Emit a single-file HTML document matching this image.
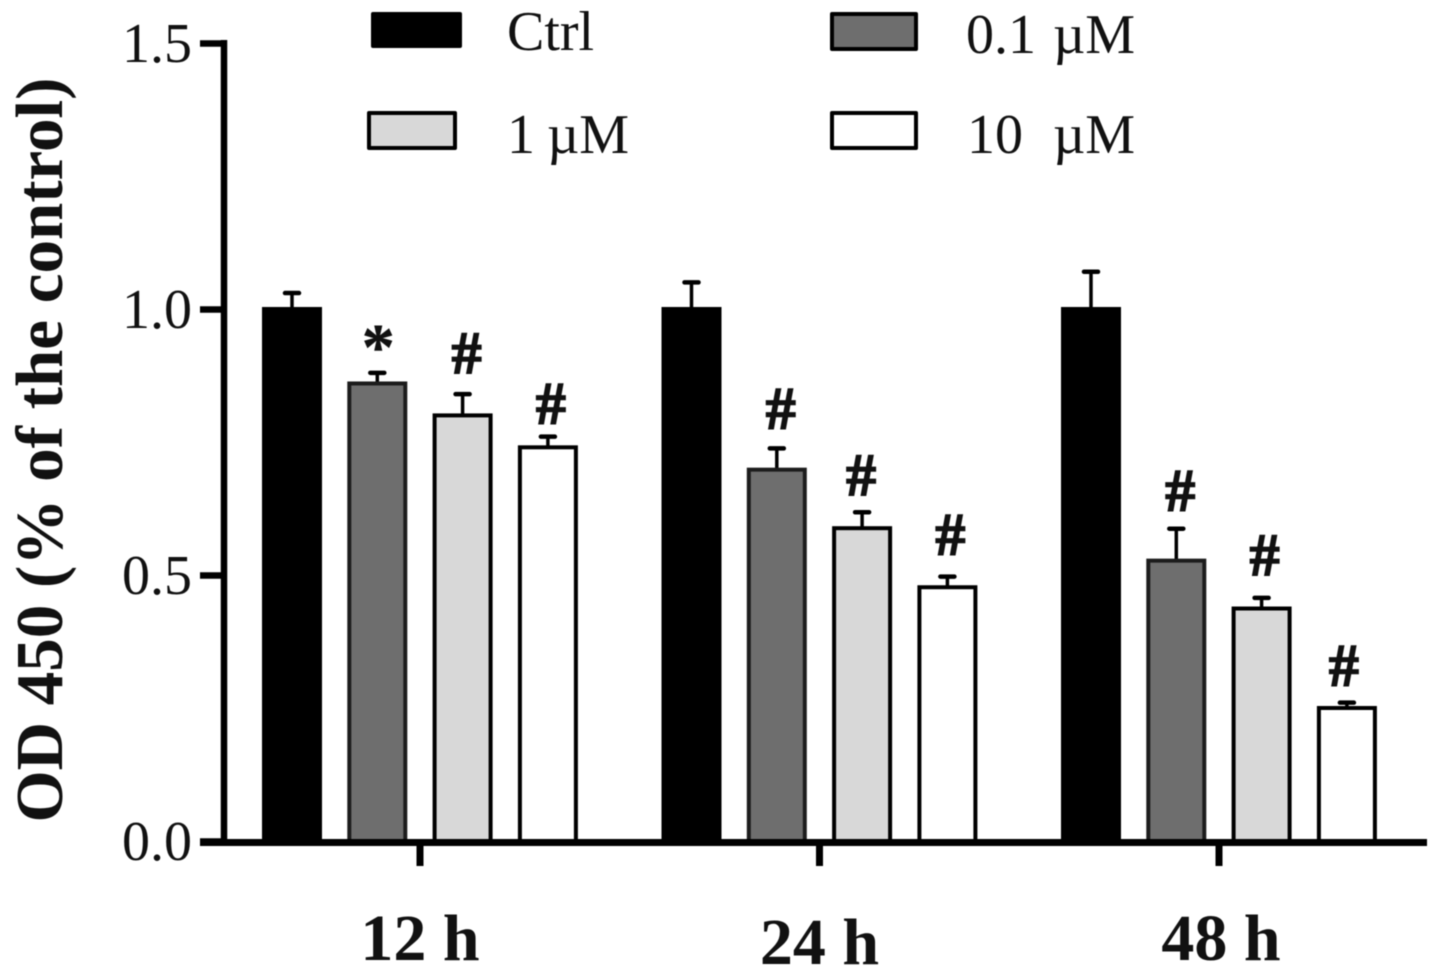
<!DOCTYPE html>
<html>
<head>
<meta charset="utf-8">
<style>
html,body{margin:0;padding:0;background:#fff;}
svg{display:block;filter:blur(0.5px);}
text{font-family:"Liberation Serif",serif;fill:#111;}
</style>
</head>
<body>
<svg id="chart" xmlns="http://www.w3.org/2000/svg" width="1441" height="976" viewBox="0 0 1441 976"></svg>
<script>
const groups = ['12 h', '24 h', '48 h'];
const seriesNames = ['Ctrl', '0.1 µM', '1 µM', '10 µM'];
const ctrlValues = [1.0, 1.0, 1.0];
const lowValues = [0.86, 0.698, 0.527];
const midValues = [0.80, 0.588, 0.437];
const highValues = [0.74, 0.477, 0.25];
const ctrlErrors = [0.03, 0.05, 0.07];
const lowErrors = [0.02, 0.04, 0.06];
const midErrors = [0.04, 0.03, 0.02];
const highErrors = [0.02, 0.02, 0.01];
const lowMarks = ['*', '#', '#'];
const midMarks = ['#', '#', '#'];
const highMarks = ['#', '#', '#'];
const yTicks = ['0.0', '0.5', '1.0', '1.5'];

const svg = document.getElementById('chart');
const NS = 'http://www.w3.org/2000/svg';
function add(tag, attrs, parent, txt) {
  const el = document.createElementNS(NS, tag);
  for (const k in attrs) el.setAttribute(k, attrs[k]);
  if (txt !== undefined) el.textContent = txt;
  (parent || svg).appendChild(el);
  return el;
}
function yScale(v) { return 841 - v * (841 - 43) / 1.5; }
function groupCenter(g) { return 420 + g * 399.5; }
function barCenter(g, s) { return groupCenter(g) - 128 + s * 85.3; }

const fills = ['#000000', '#6e6e6e', '#d8d8d8', '#ffffff'];
const values = [ctrlValues, lowValues, midValues, highValues];
const errors = [ctrlErrors, lowErrors, midErrors, highErrors];
const marks = [null, lowMarks, midMarks, highMarks];
const markShiftX = [null, [1, 4, 4], [4, -1, 3], [3, 3, -3]];
const markLift = [null, [4, 20, 18], [21, 17, 23], [13, 22, 17]];
const labelShiftX = [0, 0, 2];
const labelBaseline = [960, 964, 960];
const barW = 56;

values.forEach(function (vals, s) {
  vals.forEach(function (v, g) {
    const cx = barCenter(g, s);
    const top = yScale(v);
    const errTop = yScale(v + errors[s][g]);
    const errLine = add('line', {x1: cx, x2: cx, y1: top, y2: errTop, stroke: '#000', 'stroke-width': 3.5});
    
    
    const errCap = add('line', {x1: cx - 7, x2: cx + 7, y1: errTop, y2: errTop, stroke: '#000', 'stroke-width': 4.5, 'stroke-linecap': 'round'});
    
    
    const bar = add('rect', {x: cx - barW / 2, y: top, width: barW, height: 841 - top, fill: fills[s], stroke: s === 1 ? '#1c1c1c' : '#000', 'stroke-width': 4});
    
    
    if (marks[s]) {
      const isStar = marks[s][g] === '*';
      const m = add('text', {
        x: cx + markShiftX[s][g], y: errTop - markLift[s][g], 'text-anchor': 'middle',
        'font-size': isStar ? 66 : 60, 'font-weight': 'bold',
        stroke: '#111', 'stroke-width': isStar ? 0.5 : 1.6
      }, svg, marks[s][g]);
      
      
    }
  });
});

const yAxis = add('line', {x1: 224, x2: 224, y1: 40, y2: 846, stroke: '#000', 'stroke-width': 6.5});


const xAxis = add('line', {x1: 200, x2: 1427, y1: 842.5, y2: 842.5, stroke: '#000', 'stroke-width': 7});



yTicks.forEach(function (t) {
  const y = yScale(parseFloat(t));
  const tick = add('line', {x1: 200, x2: 224, y1: y + 0.5, y2: y + 0.5, stroke: '#000', 'stroke-width': 6.5});
  
  
  const label = add('text', {x: 192, y: y + 19, 'text-anchor': 'end', 'font-size': 56, fill: '#222'}, svg, t);
  
  
});

groups.forEach(function (name, g) {
  const x = groupCenter(g);
  const tick = add('line', {x1: x, x2: x, y1: 843, y2: 866, stroke: '#000', 'stroke-width': 7});
  
  
  const label = add('text', {x: x + labelShiftX[g], y: labelBaseline[g], 'text-anchor': 'middle', 'font-size': 66, 'font-weight': 'bold'}, svg, name);
  
  
});

const yTitle = add('text', {
  transform: 'translate(62,450) rotate(-90)', 'text-anchor': 'middle',
  'font-size': 67, 'font-weight': 'bold'
}, svg, 'OD 450 (% of the control)');



const legendSwatchX = [373, 832, 369, 832];
const legendSwatchY = [14, 14, 113, 113];
const legendSwatchW = [87, 84, 86, 84];
const legendSwatchH = [32, 35, 35, 35];
const legendTextX = [507, 966, 507, 967];
const legendTextY = [50, 53, 153, 153];
const legendWordGap = [0, 3, -2, 16];
seriesNames.forEach(function (name, i) {
  const sw = add('rect', {x: legendSwatchX[i], y: legendSwatchY[i], width: legendSwatchW[i], height: legendSwatchH[i], fill: fills[i], stroke: '#000', 'stroke-width': 4, 'stroke-linejoin': 'round'});
  
  
  const t = add('text', {x: legendTextX[i], y: legendTextY[i], 'font-size': 56, fill: '#222', 'word-spacing': legendWordGap[i]}, svg, name);
  
  
});
</script>
</body>
</html>
